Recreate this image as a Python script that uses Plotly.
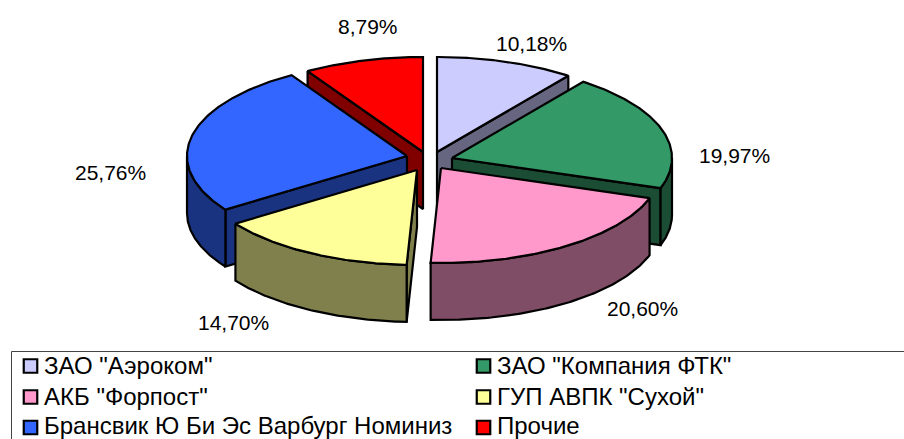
import numpy as np
import plotly.graph_objects as go

names = ['ЗАО "Аэроком"', 'ЗАО "Компания ФТК"', 'АКБ "Форпост"',
         'ГУП АВПК "Сухой"', 'Брансвик Ю Би Эс Варбург Номиниз', 'Прочие']
values = [10.18, 19.97, 20.60, 14.70, 25.76, 8.79]
top_colors = ['#CCCCFF', '#339966', '#FF99CC', '#FFFF99', '#3366FF', '#FF0000']
side_colors = ['#666680', '#1A4D33', '#804D66', '#80804D', '#1A3380', '#800000']

# chart geometry in page pixels
W, H = 904, 439
RX, RY, DEPTH = 220, 95, 57
apex = [(437, 152), (452, 158), (441, 168), (417, 170), (407, 156), (423, 152)]
label_xy = [(531, 43), (734, 155), (642, 308), (233, 322), (110, 172), (368, 26)]
paint_order = [5, 0, 4, 1, 3, 2]
legend_cols = [30.5, 483.5]
legend_rows = [366, 397, 427.5]
legend_text_rows = [365, 396, 425]
FONT = "Liberation Sans"

edges = np.radians(np.concatenate([[0], np.cumsum(values) / np.sum(values) * 360]))
fig = go.Figure()


def poly(xs, ys, color):
    fig.add_trace(go.Scatter(
        x=list(xs) + [xs[0]], y=list(ys) + [ys[0]], mode="lines", fill="toself",
        fillcolor=color, line=dict(color="black", width=2.2), hoverinfo="skip",
        showlegend=False))


def rim(cx, cy, t):
    return cx + RX * np.sin(t), cy - RY * np.cos(t)


for i in paint_order:
    cx, cy = apex[i]
    t0, t1 = edges[i], edges[i + 1]
    # radial cut faces that look towards the viewer
    for t, sign in ((t0, -1), (t1, 1)):
        if sign * np.sin(t) > 1e-6:
            ex, ey = rim(cx, cy, t)
            poly([cx, ex, ex, cx], [cy, ey, ey + DEPTH, cy + DEPTH], side_colors[i])
    # outer wall (front half of the rim)
    a, b = max(t0, np.pi / 2), min(t1, 3 * np.pi / 2)
    if b > a:
        ts = np.linspace(a, b, 90)
        rx, ry = rim(cx, cy, ts)
        poly(np.r_[rx, rx[::-1]], np.r_[ry, ry[::-1] + DEPTH], side_colors[i])
    # top face
    ts = np.linspace(t0, t1, 120)
    rx, ry = rim(cx, cy, ts)
    poly(np.r_[cx, rx], np.r_[cy, ry], top_colors[i])

# legend, two columns
for k, (n, c) in enumerate(zip(names, top_colors)):
    lx = legend_cols[k % 2]
    fig.add_trace(go.Scatter(
        x=[lx], y=[legend_rows[k // 2]], mode="markers", name=n, showlegend=False,
        hoverinfo="name",
        marker=dict(symbol="square", size=13.5, color=c, line=dict(color="black", width=2.2))))
    fig.add_annotation(x=lx + 11, y=legend_text_rows[k // 2], text=n, showarrow=False,
                       xanchor="left", font=dict(family=FONT, size=24, color="black"))

for v, (lx, ly) in zip(values, label_xy):
    fig.add_annotation(x=lx, y=ly, text=f"{v:.2f}%".replace(".", ","), showarrow=False,
                       font=dict(family=FONT, size=21, color="black"))

fig.add_shape(type="rect", x0=11.5, x1=960, y0=351.5, y1=480,
              line=dict(color="#444444", width=1), fillcolor="rgba(0,0,0,0)", layer="below")

fig.update_layout(
    width=W, height=H, margin=dict(l=0, r=0, t=0, b=0), autosize=False,
    paper_bgcolor="white", plot_bgcolor="white", showlegend=False,
    xaxis=dict(range=[0, W], visible=False, fixedrange=True),
    yaxis=dict(range=[H, 0], visible=False, fixedrange=True),
)
fig.write_html("out.html", config={"displayModeBar": False},
               post_script="document.body.style.margin='0';document.documentElement.style.overflow='hidden';")
